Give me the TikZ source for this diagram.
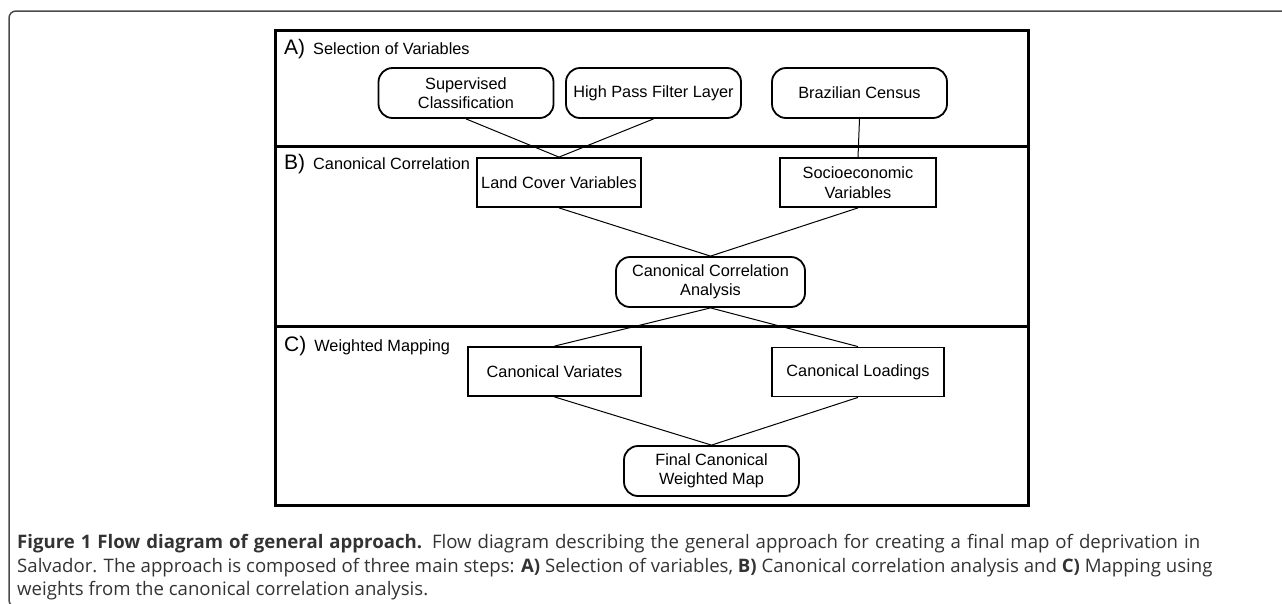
\documentclass[tikz,border=0pt]{standalone}
\usepackage{fontspec}
\setmainfont{Liberation Sans}
\newfontfamily\capfont{Open Sans}
\definecolor{captxt}{HTML}{333333}
\definecolor{framecol}{HTML}{4A4A4A}
\tikzset{
  nodetext/.style={font=\fontsize{16.3}{19.5}\selectfont, align=center, inner sep=0pt},
  rbox/.style={nodetext, draw, line width=1.8pt, rounded corners=14pt, minimum height=50pt},
  sbox/.style={nodetext, draw, line width=1.8pt, minimum height=49pt},
  conn/.style={line width=1pt},
  heavy/.style={line width=3pt},
  seclabel/.style={anchor=base west, inner sep=0pt},
  capline/.style={anchor=base west, inner sep=0pt, text=captxt, font=\capfont\fontsize{18.6}{22}\selectfont}
}
\newcommand{\seclab}[2]{{\fontsize{21}{21}\selectfont #1}\hspace{8pt}{\fontsize{16.3}{16}\selectfont #2}}
\begin{document}
\begin{tikzpicture}[x=1pt,y=-1pt]
\useasboundingbox (0,0) rectangle (1282,603);
% outer frame
\draw[framecol, line width=1.5pt, rounded corners=7pt] (1320,11) -- (9,11) -- (9,607) -- (1320,607);
% diagram box and dividers
\draw[heavy] (275,30) rectangle (1028,505);
\coordinate (dl1) at (275,146); \coordinate (dr1) at (1028,146);
\coordinate (dl2) at (275,326); \coordinate (dr2) at (1028,326);
\draw[heavy] (dl1) -- (dr1);
\draw[heavy] (dl2) -- (dr2);
% section labels
\node[seclabel] (la) at (284,54) {\seclab{A)}{Selection of Variables}};
\node[seclabel] (lb) at (284,169) {\seclab{B)}{Canonical Correlation}};
\node[seclabel] (lc) at (284,351) {\seclab{C)}{Weighted Mapping}};
% nodes
\node[rbox, minimum width=175pt] (sup) at (466,93) {Supervised\\Classification};
\node[rbox, minimum width=175pt] (hpf) at (653.5,93) {High Pass Filter Layer};
\node[rbox, minimum width=175pt] (bra) at (859.5,93) {Brazilian Census};
\node[sbox, minimum width=164pt] (lcv) at (559,182.5) {Land Cover Variables};
\node[sbox, minimum width=156pt] (soc) at (858,182.5) {Socioeconomic\\Variables};
\node[rbox, minimum width=189pt] (cca) at (710.5,282) {Canonical Correlation\\Analysis};
\node[sbox, minimum width=173pt] (cv) at (554.5,371.5) {Canonical Variates};
\node[sbox, minimum width=172pt] (cl) at (858,372) {Canonical Loadings};
\node[rbox, minimum width=175pt] (fin) at (711.5,471) {Final Canonical\\Weighted Map};
% connectors
\draw[conn] (sup.south) -- (lcv.north);
\draw[conn] (hpf.south) -- (lcv.north);
\draw[conn] (bra.south) -- (soc.north);
\draw[conn] (lcv.south) -- (cca.north);
\draw[conn] (soc.south) -- (cca.north);
\draw[conn] (cca.south) -- (cv.north);
\draw[conn] (cca.south) -- (cl.north);
\draw[conn] (cv.south) -- (fin.north);
\draw[conn] (cl.south) -- (fin.north);
% caption
\node[capline] (cap1) at (17,548) {\makebox[1183pt][s]{\textbf{Figure 1 Flow diagram of general approach.} Flow diagram describing the general approach for creating a final map of deprivation in}};
\node[capline] (cap2) at (17,572) {Salvador. The approach is composed of three main steps: \textbf{A)} Selection of variables, \textbf{B)} Canonical correlation analysis and \textbf{C)} Mapping using};
\node[capline] (cap3) at (17,595) {weights from the canonical correlation analysis.};
\end{tikzpicture}
\end{document}
